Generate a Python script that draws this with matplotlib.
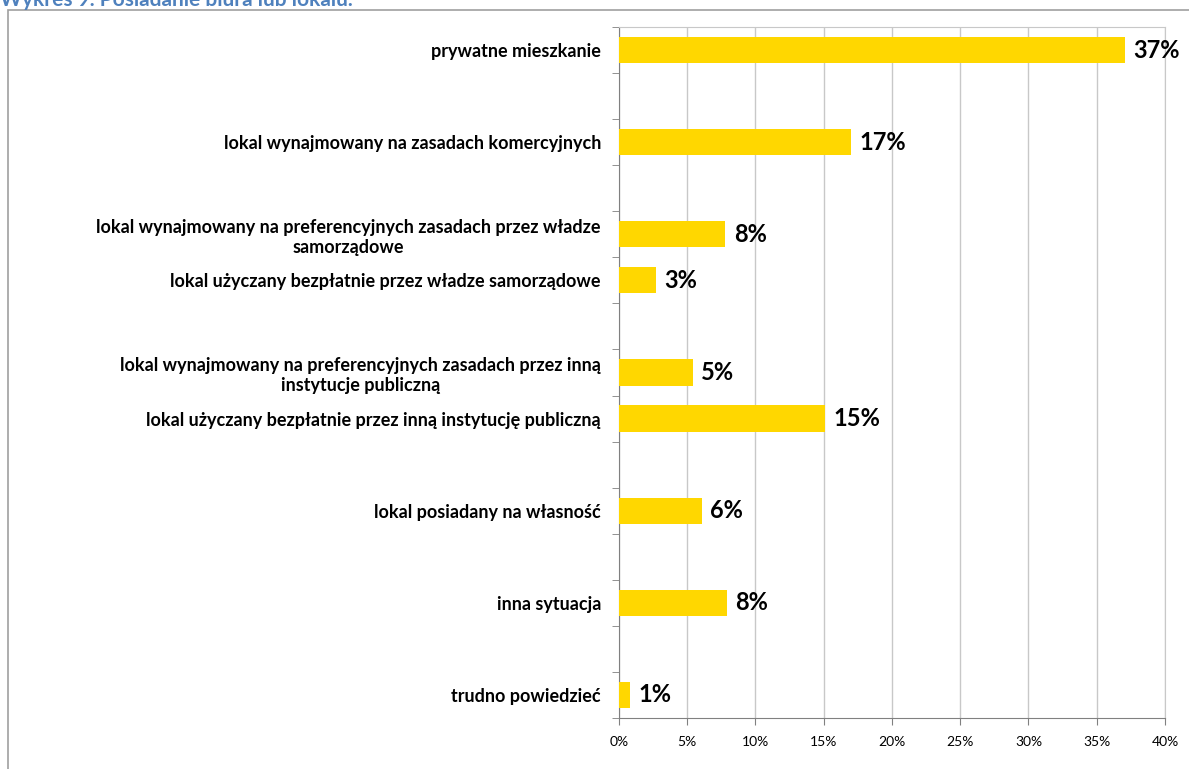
import numpy as np
import matplotlib.pyplot as plt
from matplotlib.patches import Rectangle

# categories (empty strings are the blank slots in the original chart)
categories = [
    "prywatne mieszkanie",
    "",
    "lokal wynajmowany na zasadach komercyjnych",
    "",
    "lokal wynajmowany na preferencyjnych zasadach przez władze\nsamorządowe",
    "lokal użyczany bezpłatnie przez władze samorządowe",
    "",
    "lokal wynajmowany na preferencyjnych zasadach przez inną\ninstytucje publiczną",
    "lokal użyczany bezpłatnie przez inną instytucję publiczną",
    "",
    "lokal posiadany na własność",
    "",
    "inna sytuacja",
    "",
    "trudno powiedzieć",
]
values = [37.1, None, 17.0, None, 7.8, 2.7, None, 5.4, 15.1, None, 6.1, None, 7.9, None, 0.8]
labels = ["37%", "", "17%", "", "8%", "3%", "", "5%", "15%", "", "6%", "", "8%", "", "1%"]
xticks = [0, 5, 10, 15, 20, 25, 30, 35, 40]

plt.rcParams['font.family'] = ['Lato', 'DejaVu Sans']

fig = plt.figure(figsize=(11.89, 7.69), dpi=100)
ax = fig.add_axes([0.5206, 0.0663, 0.4592, 0.8986])

n = len(categories)
y = np.arange(n)
for i in range(n):
    if values[i] is None:
        continue
    ax.barh(y[i], values[i], height=0.57, color='#FFD700', zorder=3)
    ax.text(values[i] + 0.6, y[i], labels[i], va='center', ha='left',
            fontsize=17, fontweight='bold', color='black')

ax.set_ylim(n - 0.5, -0.5)
ax.set_xlim(0, 40)
ax.set_yticks(y)
ax.set_yticklabels(categories, fontsize=13, fontweight='bold', multialignment='center')
ax.set_yticks(np.arange(n + 1) - 0.5, minor=True)
ax.tick_params(axis='y', which='major', length=0, pad=13)
ax.tick_params(axis='y', which='minor', length=5, color='#808080')
ax.set_xticks(xticks)
ax.set_xticklabels([f"{t}%" for t in xticks], fontsize=10)
ax.tick_params(axis='x', length=5, color='#808080', pad=8)

ax.grid(axis='x', color='#C8C8C8', linewidth=1, zorder=0)
for s in ['top', 'right']:
    ax.spines[s].set_color('#C8C8C8')
for s in ['left', 'bottom']:
    ax.spines[s].set_color('#808080')

# outer chart frame
fig.patches.append(Rectangle((8 / 1189, -0.05), 1.2, 1 - 10 / 769 + 0.05,
                             transform=fig.transFigure, fill=False,
                             edgecolor='#A0A0A0', linewidth=1.2))
fig.text(0.0, 1.0, "Wykres 9. Posiadanie biura lub lokalu.", color='#4F81BD',
         fontsize=15, fontweight='bold', va='center', ha='left')

fig.savefig("out.png", dpi=100)
